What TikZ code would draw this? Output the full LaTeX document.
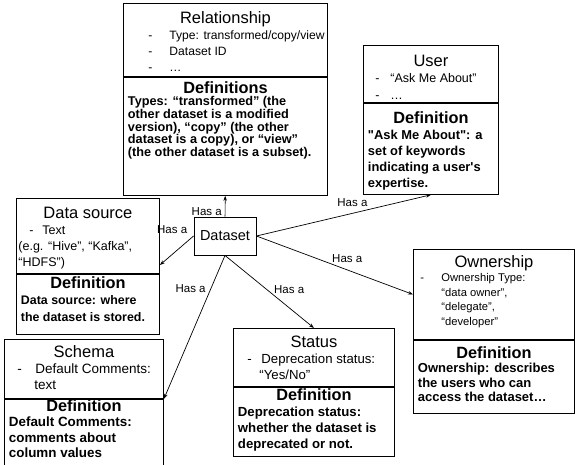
\documentclass[tikz,border=0pt]{standalone}
\usepackage{fontspec}
\newfontfamily\arial{Liberation Sans}
\usetikzlibrary{
  positioning,
  arrows.meta,
  }

\newcommand{\entcell}[3]{\parbox[t][#2][t]{#1}{#3}}
\newcommand{\enthead}[2]{\centering\rule{0pt}{#1}{\fontsize{16.5}{19}\selectfont #2}\par\raggedright}
\newcommand{\entdef}[4]{\centering\rule{0pt}{#1}{\bfseries\fontsize{16.3}{19}\selectfont #2}\par
  \raggedright\leftskip=4.5pt\bfseries\fontsize{#3}{#4}\selectfont}
\newcommand{\entlines}[2]{\fontsize{#1}{#2}\selectfont}
\newcommand{\entitem}[2]{\hspace*{#1}\makebox[\dimexpr#2-#1\relax][l]{-}}

\begin{document}
\begin{tikzpicture}[x=1pt, y=-1pt,
                    box/.style={draw, line width=0.9pt, inner sep=0pt, anchor=north west, font=\arial},
                    hasa/.style={draw, line width=0.7pt, -{Stealth[length=5pt, width=3.5pt]}},
                    lbl/.style={inner sep=2pt, font=\arial\fontsize{11.5}{13}\selectfont}]
                \useasboundingbox (0,0) rectangle (575,465);
                \clip (0,0) rectangle (575,465);

                \node[box] (rel) at (123,3) {\entcell{204pt}{73pt}{\enthead{20pt}{Relationship}\entlines{12.1}{16pt}
                    \entitem{25pt}{46pt}Type: transformed/copy/view\\
                    \entitem{25pt}{46pt}Dataset ID\\
                    \entitem{25pt}{46pt}…}};
                \node[box, below=0pt of rel] (reldef) {\entcell{204pt}{118pt}{\entdef{15.7pt}{Definitions}{12.7}{12.7pt}
                    Types: “transformed” (the\\
                    other dataset is a modified\\
                    version), “copy” (the other\\
                    dataset is a copy), or “view”\\
                    (the other dataset is a subset).}};

                \node[box] (user) at (363,45) {\entcell{135pt}{57pt}{\enthead{20.7pt}{User}\entlines{12.5}{16.7pt}
                    \entitem{12pt}{27pt}“Ask Me About”\\
                    \entitem{12pt}{27pt}…}};
                \node[box, below=0pt of user] (userdef) {\entcell{135pt}{91pt}{\entdef{20.6pt}{Definition}{12.9}{16pt}
                    "Ask Me About": a\\
                    set of keywords\\
                    indicating a user's\\
                    expertise.}};

                \node[box] (dsrc) at (16,198) {\entcell{143pt}{75pt}{\enthead{20.3pt}{Data source}\entlines{12.5}{16pt}
                    \entitem{13pt}{26pt}Text\\
                    \hspace*{2pt}(e.g. “Hive”, “Kafka”,\\
                    \hspace*{2pt}“HDFS”)}};
                \node[box, below=0pt of dsrc] (dsrcdef) {\entcell{143pt}{60pt}{\entdef{13.7pt}{Definition}{12.4}{16.5pt}
                    Data source: where\\
                    the dataset is stored.}};

                \node[box] (schema) at (4,339) {\entcell{159pt}{59pt}{\enthead{18.3pt}{Schema}\entlines{13.5}{16pt}
                    \entitem{13pt}{31pt}Default Comments:\\
                    \hspace*{30pt}text}};
                \node[box, below=0pt of schema] (schemadef) {\entcell{159pt}{72pt}{\entdef{12pt}{Definition}{13.4}{15.5pt}
                    Default Comments:\\
                    comments about\\
                    column values}};

                \node[box] (status) at (233,328) {\entcell{161pt}{58pt}{\enthead{18.7pt}{Status}\entlines{13.2}{16pt}
                    \entitem{14pt}{28pt}Deprecation status:\\
                    \hspace*{26pt}“Yes/No”}};
                \node[box, below=0pt of status] (statusdef) {\entcell{161pt}{69pt}{\entdef{13.3pt}{Definition}{13.2}{16pt}
                    Deprecation status:\\
                    whether the dataset is\\
                    deprecated or not.}};

                \node[box] (owner) at (413,249) {\entcell{161pt}{90pt}{\enthead{17.7pt}{Ownership}\entlines{11.2}{14.5pt}
                    \entitem{7pt}{28pt}Ownership Type:\\
                    \hspace*{28pt}“data owner”,\\
                    \hspace*{28pt}“delegate”,\\
                    \hspace*{28pt}“developer”}};
                \node[box, below=0pt of owner] (ownerdef) {\entcell{161pt}{73pt}{\entdef{17.7pt}{Definition}{13}{14.5pt}
                    Ownership: describes\\
                    the users who can\\
                    access the dataset…}};

                \node[draw, line width=0.9pt, minimum width=62pt, minimum height=38pt,
                      font=\arial\fontsize{14.5}{17}\selectfont] (dataset) at (225,236) {Dataset};

                \draw[hasa] (dataset) -- node[lbl, pos=0.26, left=1pt] (hasrel) {Has a} (reldef);
                \draw[hasa] (dataset.west) -- node[lbl, pos=0, anchor=south east, xshift=-4pt] (hasdsrc) {Has a} (dsrc.-22);
                \draw[hasa] (dataset.east) -- node[lbl, pos=0.55, above=4pt] (hasuser) {Has a} (userdef.south);
                \draw[hasa] (dataset.east) -- node[lbl, pos=0.58, above=5pt] (hasowner) {Has a} (owner.west);
                \draw[hasa] (dataset.south) -- node[lbl, pos=0.47, right=5pt] (hasstatus) {Has a} (status.north);
                \draw[hasa] (dataset.south) -- node[lbl, pos=0.23, left=3pt] (hasschema) {Has a} (schemadef.north east);
\end{tikzpicture}
\end{document}
